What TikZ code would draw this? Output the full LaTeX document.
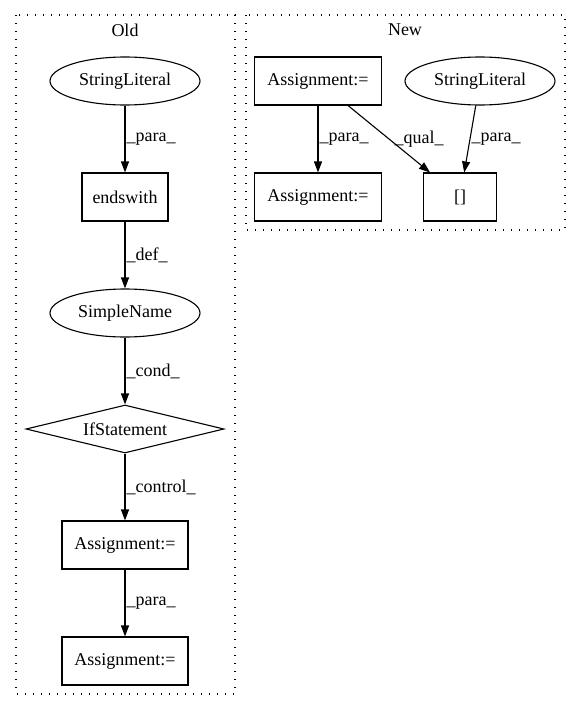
\documentclass[tikz,border=0pt]{standalone}
\usepackage{fontspec}
\setmainfont{Liberation Serif}
\usetikzlibrary{arrows.meta,shapes.geometric}

\begin{document}
\begin{tikzpicture}[x=1pt, y=-1pt,
                    >={Triangle[length=11pt,width=8pt]}, line width=1.1pt,
                    font=\fontsize{18}{21}\selectfont,
                    box/.style={draw, rectangle, minimum height=48pt, inner sep=0pt},
                    oval/.style={draw, ellipse, minimum width=150pt, minimum height=48pt, inner sep=0pt},
                    cond/.style={draw, diamond, shape aspect=4.1, minimum width=198pt,
                                 minimum height=48pt, inner sep=0pt},
                    cluster/.style={draw, dash pattern=on 1.3pt off 6.7pt},
                    lbl/.style={right, inner sep=1pt}
                    ]
\useasboundingbox (0,0) rectangle (581,712);

%clusters
\draw [cluster] (16,15) rectangle (235,694);
\draw [cluster] (246,15) rectangle (565,230);
\node (old) at (125,30) {Old};
\node (new) at (405,30) {New};

%Old
\node [oval] (lit1) at (125,81) {StringLiteral};
\node [box, minimum width=86pt] (ends) at (125,197) {endswith};
\node [oval] (name) at (125,313) {SimpleName};
\node [cond] (ifst) at (125,429) {IfStatement};
\node [box, minimum width=126pt] (asg1) at (125,545) {Assignment:=};
\node [box, minimum width=126pt] (asg2) at (125,661) {Assignment:=};

\draw [->] (lit1) -- node [lbl] {\_para\_} (ends);
\draw [->] (ends) -- node [lbl] {\_def\_} (name);
\draw [->] (name) -- node [lbl] {\_cond\_} (ifst);
\draw [->] (ifst) -- node [lbl] {\_control\_} (asg1);
\draw [->] (asg1) -- node [lbl] {\_para\_} (asg2);

%New
\node [box, minimum width=127pt] (asg3) at (318,81) {Assignment:=};
\node [oval] (lit2) at (480,81) {StringLiteral};
\node [box, minimum width=127pt] (asg4) at (318,197) {Assignment:=};
\node [box, minimum width=73pt] (idx) at (460,197) {[]};

\draw [->] (asg3) -- node [lbl] {\_para\_} (asg4);
\draw [->] (asg3) -- node [lbl, xshift=4pt] {\_qual\_} (idx);
\draw [->] (lit2) -- node [lbl] {\_para\_} (idx);
\end{tikzpicture}
\end{document}
